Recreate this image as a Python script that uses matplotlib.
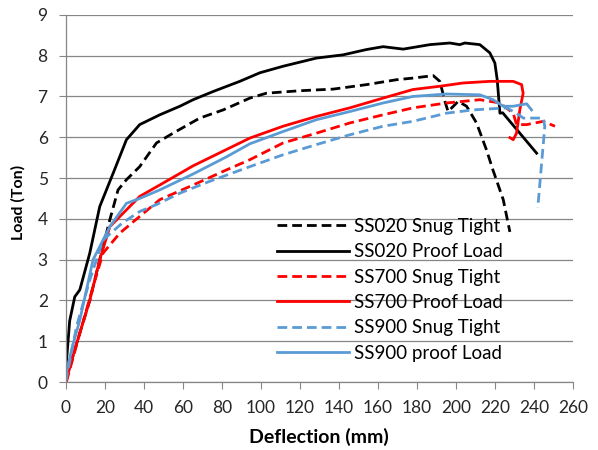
import matplotlib
matplotlib.use("Agg")
import matplotlib.pyplot as plt

# SS020 Snug Tight (black dashed)
ss020_snug_x = [0, 2, 7.2, 12.3, 17.4, 22.6, 26.8, 31.1, 37.9, 46.5, 55, 68.7, 80.7, 94.4,
                102.9, 120, 137.1, 154.2, 169.6, 178, 188.4, 191.8, 194.4, 196, 201.2, 205.5,
                210.6, 215.7, 219, 224.3, 227.7]
ss020_snug_y = [0.1, 0.37, 1.2, 2.0, 3.0, 3.98, 4.71, 4.96, 5.28, 5.86, 6.1, 6.47, 6.67, 6.96,
                7.08, 7.14, 7.18, 7.29, 7.41, 7.45, 7.51, 7.37, 6.88, 6.63, 6.88, 6.76,
                6.35, 5.69, 5.2, 4.47, 3.68]

# SS020 Proof Load (black solid)
ss020_proof_x = [0, 2, 4.6, 7.2, 12.3, 17.4, 24.3, 31.1, 37.9, 48.2, 58.5, 65.3, 75.5, 89.2,
                 99.5, 111.4, 128.5, 142.2, 154.2, 162.7, 173, 186.7, 196.9, 202, 204.6, 212.3,
                 217.4, 220, 221.2, 222.6, 224, 241.4]
ss020_proof_y = [0.3, 1.5, 2.09, 2.26, 3.16, 4.3, 5.12, 5.94, 6.31, 6.55, 6.76, 6.92, 7.12, 7.37,
                 7.58, 7.74, 7.94, 8.02, 8.15, 8.22, 8.16, 8.27, 8.31, 8.27, 8.31, 8.27,
                 8.07, 7.82, 7.41, 6.59, 6.6, 5.61]

# SS700 Snug Tight (red dashed)
ss700_snug_x = [0.3, 7.2, 14, 19.1, 27.7, 37.9, 48.2, 65.3, 82.4, 94.4, 111.4, 128.5, 145.6,
                162.7, 178, 195.2, 212.3, 222.6, 229.4, 231.1, 236.3, 244.8, 250.8]
ss700_snug_y = [0, 1.2, 2.34, 3.16, 3.65, 4.06, 4.47, 4.83, 5.2, 5.45, 5.86, 6.1, 6.35,
                6.55, 6.72, 6.84, 6.92, 6.84, 6.59, 6.31, 6.31, 6.39, 6.27]

# SS700 Proof Load (red solid)
ss700_proof_x = [0, 4.6, 12.3, 17.4, 22.6, 31.1, 37.9, 48.2, 65.3, 82.4, 94.4, 111.4, 128.5,
                 145.6, 162.7, 178, 191.8, 203.7, 217.4, 229.4, 233.7, 234.5, 232.8, 231.1,
                 229.4, 227.7]
ss700_proof_y = [0, 0.8, 2.0, 3.0, 3.81, 4.22, 4.55, 4.83, 5.3, 5.7, 5.98, 6.27, 6.51,
                 6.72, 6.96, 7.17, 7.25, 7.33, 7.37, 7.37, 7.29, 7.08, 6.67, 6.1,
                 5.94, 5.99]

# SS900 Snug Tight (blue dashed)
ss900_snug_x = [0, 5.5, 12.3, 19.1, 29, 37.9, 46.5, 58.5, 73.8, 94.4, 111.4, 128.5, 145.6,
                162.7, 178, 195.2, 208.9, 226, 231.1, 234.5, 244.8, 245.6, 242]
ss900_snug_y = [0, 1.36, 2.5, 3.48, 3.9, 4.18, 4.35, 4.63, 4.92, 5.28, 5.57, 5.82, 6.06,
                6.27, 6.39, 6.59, 6.67, 6.72, 6.59, 6.47, 6.47, 6.27, 4.27]

# SS900 proof Load (blue solid)
ss900_proof_x = [0, 3, 7.2, 14, 22.6, 31.1, 37.9, 48.2, 65.3, 82.4, 94.4, 111.4, 128.5, 145.6,
                 162.7, 178, 195.2, 212.3, 219.1, 224.3, 229.4, 236.3, 238.8]
ss900_proof_y = [0.15, 0.8, 1.52, 3.0, 3.81, 4.38, 4.5, 4.71, 5.1, 5.52, 5.84, 6.14, 6.43, 6.63,
                 6.84, 7.0, 7.06, 7.04, 6.92, 6.76, 6.76, 6.82, 6.67]

x_ticks = list(range(0, 261, 20))
y_ticks = list(range(0, 10))


def main():
    plt.rcParams['font.family'] = ['Lato', 'DejaVu Sans']
    fig = plt.figure(figsize=(5.98, 4.5), dpi=100)
    ax = fig.add_axes([0.110, 0.151, 0.848, 0.816])

    blue = "#5B9BD5"
    lw = 2.0
    dash = (0, (3.5, 1.8))

    ax.plot(ss020_snug_x, ss020_snug_y, color="black", lw=lw, linestyle=dash, label="SS020 Snug Tight")
    ax.plot(ss020_proof_x, ss020_proof_y, color="black", lw=lw, label="SS020 Proof Load")
    ax.plot(ss700_snug_x, ss700_snug_y, color="#FF0000", lw=lw, linestyle=dash, label="SS700 Snug Tight")
    ax.plot(ss700_proof_x, ss700_proof_y, color="#FF0000", lw=lw, label="SS700 Proof Load")
    ax.plot(ss900_snug_x, ss900_snug_y, color=blue, lw=lw, linestyle=dash, label="SS900 Snug Tight")
    ax.plot(ss900_proof_x, ss900_proof_y, color=blue, lw=lw, label="SS900 proof Load")

    # axes
    ax.set_xlim(0, 260)
    ax.set_ylim(0, 9)
    ax.set_xticks(x_ticks)
    ax.set_yticks(y_ticks)
    ax.grid(axis="y", color="#868686", lw=0.9)
    ax.set_axisbelow(True)
    for s in ["top", "right"]:
        ax.spines[s].set_visible(False)
    for s in ["left", "bottom"]:
        ax.spines[s].set_color("#868686")
        ax.spines[s].set_linewidth(0.9)
    ax.tick_params(axis="x", direction="out", length=5, color="#868686", labelsize=12.5,
                   pad=8, labelcolor="#262626")
    ax.tick_params(axis="y", direction="out", length=5, color="#868686", labelsize=12.5,
                   pad=8, labelcolor="#262626")

    ax.set_xlabel("Deflection (mm)", fontsize=14, fontweight="bold")
    ax.set_ylabel("Load (Ton)", fontsize=11.5, fontweight="bold")
    ax.xaxis.set_label_coords(0.5, -0.125)
    ax.yaxis.set_label_coords(-0.079, 0.49)

    ax.legend(loc="center left", bbox_to_anchor=(0.416, 0.251), frameon=False,
              fontsize=13.5, handlelength=3.84, handletextpad=0.27, labelspacing=0.445,
              borderpad=0, borderaxespad=0)

    fig.savefig("out.png", dpi=100)


if __name__ == "__main__":
    main()
